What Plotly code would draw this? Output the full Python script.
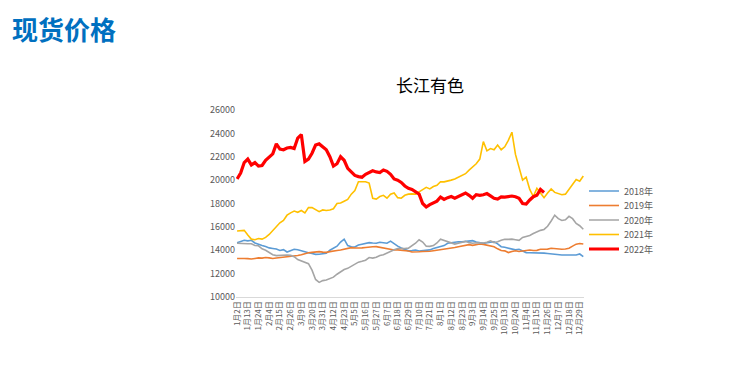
import plotly.graph_objects as go

tick_labels = ["1月2日","1月13日","1月24日","2月4日","2月15日","2月26日","3月9日","3月20日","3月31日",
               "4月12日","4月23日","5月5日","5月16日","5月27日","6月7日","6月18日","6月29日","7月10日",
               "7月21日","8月1日","8月12日","8月23日","9月3日","9月14日","9月25日","10月13日","10月24日",
               "11月4日","11月15日","11月26日","12月7日","12月18日","12月29日"]
points_per_label = 3

y2018 = [14650,14750,14850,14800,14850,14620,14480,14400,14320,14200,14150,14100,13980,14050,13850,13950,
         14080,14050,13950,13850,13780,13720,13650,13660,13700,13740,14000,14200,14350,14700,14950,14400,
         14300,14280,14450,14520,14580,14650,14620,14600,14680,14620,14600,14780,14550,14350,14200,14080,
         13950,13980,14020,13940,13950,13960,14030,14150,14250,14350,14400,14600,14650,14700,14730,14720,
         14760,14790,14820,14700,14620,14590,14640,14700,14730,14550,14300,14250,14180,14050,14030,14080,
         13960,13800,13790,13790,13780,13740,13750,13720,13680,13690,13650,13600,13590,13600,13590,13600,
         13680,13450]
y2019 = [13300,13320,13300,13280,13250,13300,13350,13330,13380,13350,13300,13340,13370,13380,13420,13440,
         13480,13550,13620,13720,13780,13820,13850,13880,13840,13820,13880,13950,13980,14020,14100,14200,
         14220,14190,14170,14200,14240,14290,14300,14310,14250,14170,14130,14080,14020,14030,14010,13960,
         13930,13850,13830,13870,13890,13880,13910,13950,13990,14030,14080,14130,14180,14230,14300,14380,
         14450,14480,14420,14480,14530,14500,14450,14380,14300,14120,13980,13950,13800,13900,13960,13890,
         13930,13980,14020,13980,13990,14080,14080,14100,14170,14120,14080,14080,14100,14170,14350,14520,
         14580,14530]
y2020 = [14600,14580,14520,14560,14550,14400,14380,14120,14000,13800,13620,13540,13560,13600,13590,13560,
         13450,13200,13080,12980,12850,12300,11500,11250,11400,11450,11580,11700,11950,12150,12350,12450,
         12650,12800,12980,13050,13150,13380,13330,13400,13550,13620,13780,13900,14050,14150,14120,14150,
         14180,14400,14600,14900,14700,14350,14330,14400,14620,14950,14850,14700,14600,14530,14600,14700,
         14760,14650,14600,14640,14600,14620,14680,14810,14660,14720,14850,14940,14930,14950,14900,14850,
         15100,15180,15270,15430,15580,15700,15780,16050,16500,17000,16700,16550,16600,16900,16700,16300,
         16100,15800]
y2021 = [15650,15650,15700,15300,14950,14900,15000,14950,15100,15350,15700,16000,16350,16550,17000,17200,
         17350,17250,17400,17200,17650,17650,17450,17300,17450,17400,17450,17550,18000,18050,18200,18350,
         18800,19100,19860,19850,19860,19750,18450,18380,18600,18700,18450,18800,18900,18500,18450,18700,
         18800,18820,18800,19000,19200,19380,19250,19450,19550,19860,19850,19900,20000,20100,20250,20400,
         20550,20850,21100,21400,21800,23300,22500,22700,22600,23000,22600,22850,23400,24100,22200,21000,
         20000,20250,19200,18600,19300,18900,18500,18900,19250,18950,18820,18750,18800,19250,19600,20050,
         19900,20350]
y2022 = [20100,20600,21500,21800,21300,21500,21200,21250,21700,22000,22250,23100,22650,22600,22750,22800,
         22700,23600,23900,21600,21800,22300,23000,23100,22850,22600,22000,21200,21400,22000,21700,21000,
         20700,20400,20300,20250,20500,20650,20800,20700,20650,20870,20750,20500,20100,20000,19800,19500,
         19300,19200,19000,18800,18000,17700,17900,18050,18200,18550,18350,18500,18600,18450,18600,18700,
         18900,18700,18450,18750,18700,18750,18850,18650,18450,18380,18570,18550,18580,18640,18580,18450,
         18000,17950,18300,18580,18700,19200,18950]

series = [("2018年", y2018, "#5B9BD5", 1.6),
          ("2019年", y2019, "#ED7D31", 1.6),
          ("2020年", y2020, "#A5A5A5", 1.6),
          ("2021年", y2021, "#FFC000", 1.6),
          ("2022年", y2022, "#FF0000", 3.2)]

# page offset (browser body margin) and plot area in page pixels
OFF = 8
PL, PR, PT, PB = 236, 584, 110, 297
W, H = 751 - OFF, 378 - OFF
ml, mt = PL - OFF, PT - OFF
mr, mb = W - (PR - OFF), H - (PB - OFF)
pw, ph = PR - PL, PB - PT

def px(x):
    return (x - PL) / pw

def py(y):
    return 1 - (y - PT) / ph

legend_centers = [191, 205.5, 220, 234.5, 249]

fig = go.Figure()
layout_legends = {}
for k, (name, ys, color, w) in enumerate(series):
    lg = "legend" if k == 0 else f"legend{k+1}"
    fig.add_trace(go.Scatter(x=list(range(len(ys))), y=ys, mode="lines", name=name,
                             line=dict(color=color, width=w), legend=lg))
    layout_legends[lg] = dict(x=px(584), y=py(legend_centers[k]), xanchor="left", yanchor="middle",
                              font=dict(size=9, color="#595959"), bgcolor="rgba(0,0,0,0)",
                              itemwidth=30)

tickvals = [i * points_per_label for i in range(len(tick_labels))]

fig.update_layout(
    width=W, height=H,
    margin=dict(l=ml, r=mr, t=mt, b=mb, autoexpand=False),
    paper_bgcolor="white", plot_bgcolor="white",
    font=dict(family="Noto Sans CJK SC, Liberation Sans, sans-serif", color="#595959"),
    showlegend=True,
    xaxis=dict(range=[-0.3, 97.2], tickvals=tickvals, ticktext=tick_labels, tickangle=-90,
               tickfont=dict(size=8, color="#595959"), showgrid=False, zeroline=False,
               showline=True, linecolor="#D9D9D9", linewidth=1, ticks=""),
    yaxis=dict(range=[10000, 26000], dtick=2000, tickformat="d", tickfont=dict(size=9, color="#595959"),
               showgrid=False, zeroline=False, showline=False, ticks=""),
    annotations=[
        dict(text="长江有色", xref="paper", yref="paper", x=px(430), y=py(85),
             xanchor="center", yanchor="middle", showarrow=False,
             font=dict(size=17, color="#000000", family="Noto Sans CJK SC")),
        dict(text="<b>现货价格</b>", xref="paper", yref="paper", x=px(10),
             y=py(8), xanchor="left", yanchor="top", showarrow=False,
             font=dict(size=26, color="#0070C0", family="Noto Sans CJK SC")),
    ],
    **layout_legends,
)

fig.write_html("out.html")
